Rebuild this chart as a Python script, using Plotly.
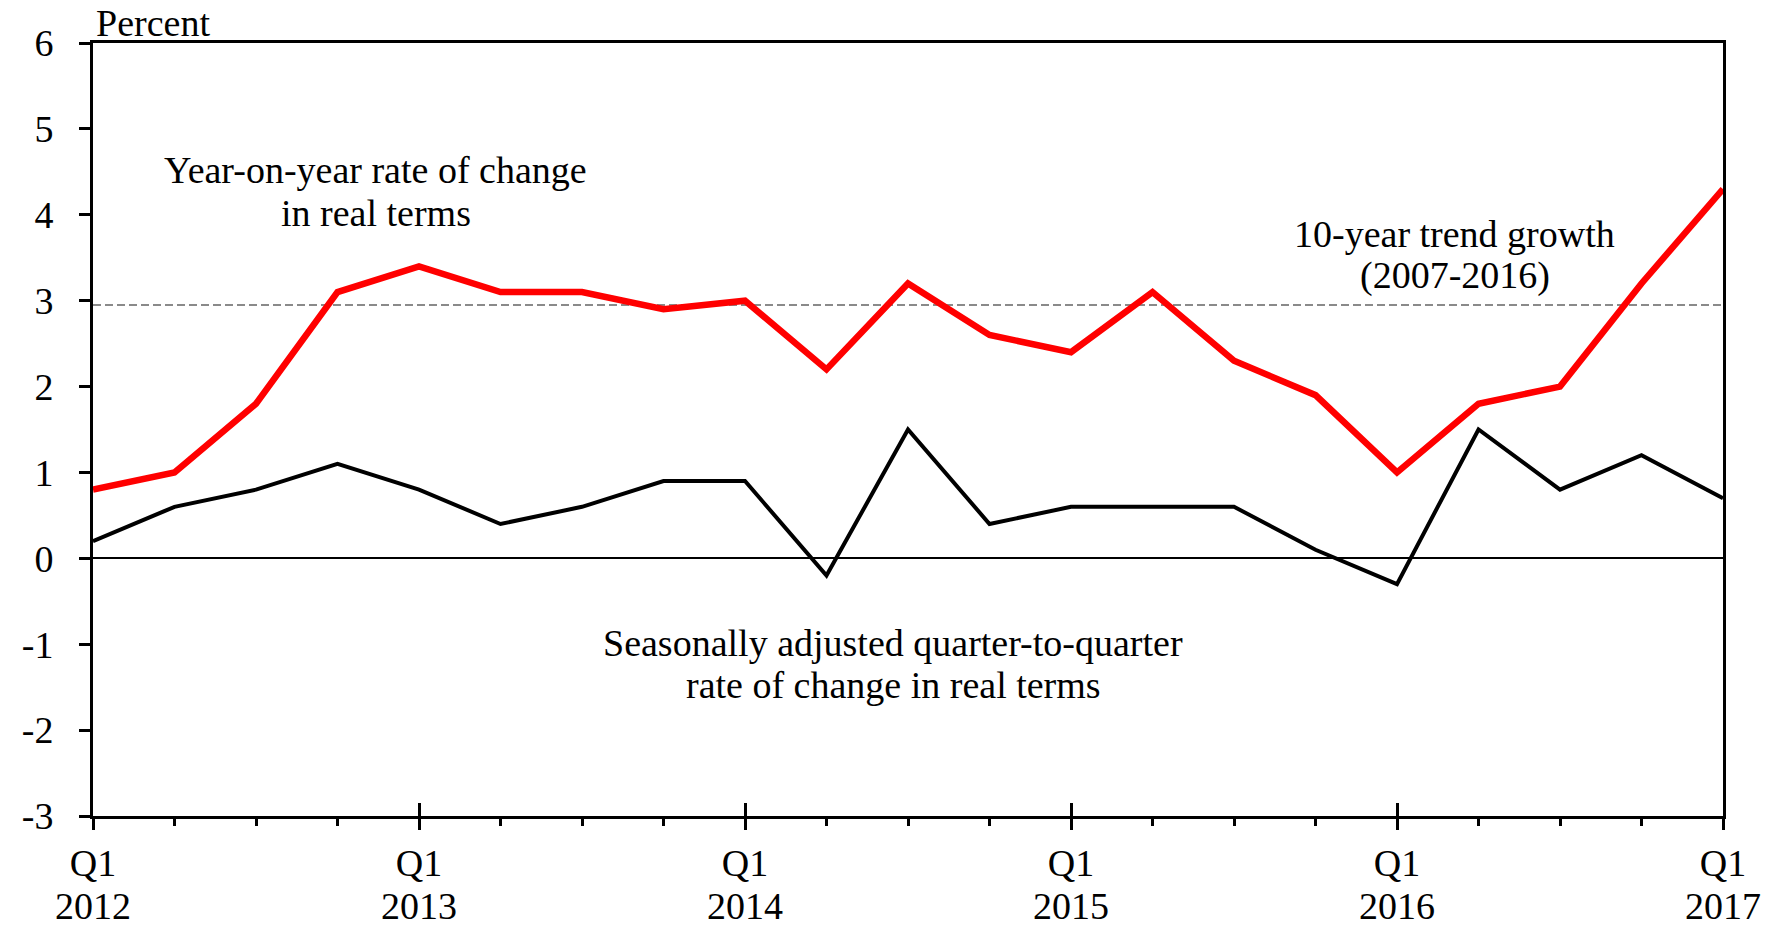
import plotly.graph_objects as go

# ---- data ----
quarters = list(range(21))  # Q1 2012 ... Q1 2017
tick_positions = [0, 4, 8, 12, 16, 20]
quarter_labels = ["Q1", "Q1", "Q1", "Q1", "Q1", "Q1"]
year_labels = ["2012", "2013", "2014", "2015", "2016", "2017"]
yoy_real = [0.8, 1.0, 1.8, 3.1, 3.4, 3.1, 3.1, 2.9, 3.0, 2.2, 3.2, 2.6, 2.4, 3.1, 2.3, 1.9,
            1.0, 1.8, 2.0, 3.2, 4.3]
qoq_sa_real = [0.2, 0.6, 0.8, 1.1, 0.8, 0.4, 0.6, 0.9, 0.9, -0.2, 1.5, 0.4, 0.6, 0.6, 0.6, 0.1,
               -0.3, 1.5, 0.8, 1.2, 0.7]
trend_growth = 2.95
y_ticks = [-3, -2, -1, 0, 1, 2, 3, 4, 5, 6]
y_ticktext = ["-3", "-2", "-1", "0", "1", "2", "3", "4", "5", "6"]

FONT = "Liberation Serif"
FS = 38

fig = go.Figure()

fig.add_trace(go.Scatter(
    x=[quarters[0], quarters[-1]], y=[trend_growth, trend_growth], mode="lines",
    line=dict(color="#8a8a8a", width=2, dash="8px,4px"), hoverinfo="skip", showlegend=False))
fig.add_trace(go.Scatter(
    x=quarters, y=qoq_sa_real, mode="lines",
    line=dict(color="black", width=4), showlegend=False))
fig.add_trace(go.Scatter(
    x=quarters, y=yoy_real, mode="lines",
    line=dict(color="#ff0000", width=6.5), showlegend=False))
# invisible trace to carry the overlay axis (inside part of major ticks + year labels)
fig.add_trace(go.Scatter(x=[quarters[0]], y=[0], xaxis="x2", mode="markers",
                         marker=dict(opacity=0), hoverinfo="skip", showlegend=False))

fig.update_layout(
    width=1779, height=928,
    margin=dict(l=93, r=56, t=43, b=112, autoexpand=False),
    paper_bgcolor="white", plot_bgcolor="white",
    font=dict(family=FONT, size=FS, color="black"),
    xaxis=dict(
        range=[0, 20], tickvals=tick_positions, ticktext=quarter_labels, automargin=False,
        showgrid=False, zeroline=False, showline=True, linecolor="black", linewidth=3,
        mirror=True, ticks="outside", ticklen=11, tickwidth=2.5, tickcolor="black",
        minor=dict(dtick=1, tick0=0, ticks="outside", ticklen=7, tickwidth=2.5, tickcolor="black", showgrid=False),
        tickfont=dict(family=FONT, size=FS), ticklabelstandoff=0,
    ),
    xaxis2=dict(
        range=[0, 20], overlaying="x", anchor="y", side="bottom", automargin=False,
        tickvals=tick_positions, ticktext=year_labels, showticklabels=True,
        tickfont=dict(family=FONT, size=FS), ticklabelstandoff=64,
        ticks="inside", ticklen=13,
        tickwidth=2.5, tickcolor="black", showgrid=False, zeroline=False, showline=False,
    ),
    yaxis=dict(
        range=[-3, 6], tickvals=y_ticks, ticktext=y_ticktext, automargin=False,
        showgrid=False, zeroline=True, zerolinecolor="black", zerolinewidth=1.5,
        showline=True, linecolor="black", linewidth=3, mirror=True,
        ticks="outside", ticklen=11, tickwidth=2.5, tickcolor="black",
        tickfont=dict(family=FONT, size=FS), ticklabelstandoff=18,
    ),
    annotations=[
        dict(text="Percent", xref="paper", yref="paper", x=0, y=1, xanchor="left", yanchor="middle",
             xshift=1, yshift=20, showarrow=False, font=dict(family=FONT, size=FS)),
        dict(text="Year-on-year rate of change", x=3.47, y=4.52, showarrow=False,
             xanchor="center", yanchor="middle", font=dict(family=FONT, size=FS)),
        dict(text="in real terms", x=3.47, y=4.02, showarrow=False,
             xanchor="center", yanchor="middle", font=dict(family=FONT, size=FS)),
        dict(text="10-year trend growth", x=16.71, y=3.78, showarrow=False,
             xanchor="center", yanchor="middle", font=dict(family=FONT, size=FS)),
        dict(text="(2007-2016)", x=16.71, y=3.29, showarrow=False,
             xanchor="center", yanchor="middle", font=dict(family=FONT, size=FS)),
        dict(text="Seasonally adjusted quarter-to-quarter", x=9.82, y=-0.98, showarrow=False,
             xanchor="center", yanchor="middle", font=dict(family=FONT, size=FS)),
        dict(text="rate of change in real terms", x=9.82, y=-1.47, showarrow=False,
             xanchor="center", yanchor="middle", font=dict(family=FONT, size=FS)),
    ],
)

fig.write_html("out.html", config={"displayModeBar": False},
               post_script="document.body.style.margin='0';")
